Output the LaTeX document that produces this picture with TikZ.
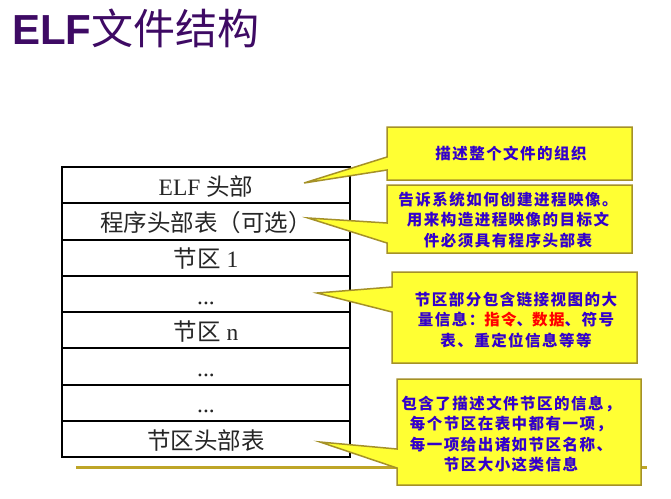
\documentclass[tikz,border=0pt]{standalone}
\usepackage{fontspec}
\setmainfont{Liberation Serif}
\newfontfamily\cjk{Noto Sans CJK SC}
\newfontfamily\cjksp{Noto Sans CJK SC}[LetterSpace=9.5]
\newfontfamily\titlesans{Liberation Sans}
\definecolor{titlecol}{RGB}{62,10,100}
\definecolor{callfill}{RGB}{255,255,51}
\definecolor{calledge}{RGB}{165,145,40}
\definecolor{olivebar}{RGB}{190,165,40}
\definecolor{calltext}{RGB}{51,0,204}
\definecolor{keyred}{RGB}{255,0,0}
\tikzset{
  rowbox/.style={draw=black, line width=2pt, minimum width=288pt, minimum height=36.25pt,
    inner sep=0pt, outer sep=0pt, anchor=north west, text height=22.5pt, text depth=2pt,
    font=\fontsize{23.5}{27}\selectfont, text=black!85},
  callout/.style={fill=callfill, draw=calledge, line width=1.5pt, line join=miter},
  calltxt/.style={align=center, inner sep=0pt, text=calltext,
    font=\cjksp\bfseries\fontsize{15.5}{20.5}\selectfont},
  olive line/.style={draw=olivebar, line width=3pt}
}
\begin{document}
\begin{tikzpicture}[x=1pt,y=-1pt]
\useasboundingbox (0,0) rectangle (671,498);
\fill[white] (0,0) rectangle (671,498);
% title
\node[anchor=base west, inner sep=0pt, text=titlecol, font=\fontsize{42}{50}\selectfont] (title) at (12,44) {{\titlesans\bfseries ELF}{\cjk 文件结构}};
% table rows
\node[rowbox] (r1) at (62,167) {ELF~{\cjk 头部}};
\node[rowbox] (r2) at (62,203.25) {\cjk 程序头部表（可选）};
\node[rowbox] (r3) at (62,239.5) {{\cjk 节区}~1};
\node[rowbox] (r4) at (62,275.75) {...};
\node[rowbox] (r5) at (62,312) {{\cjk 节区}~n};
\node[rowbox] (r6) at (62,348.25) {...};
\node[rowbox] (r7) at (62,384.5) {...};
\node[rowbox] (r8) at (62,420.75) {\cjk 节区头部表};
% olive bar
\draw[olive line] (76,467.5) -- (647,467.5);
% pointer tips
\coordinate (t1) at (304,183);
\coordinate (t2) at (308,218);
\coordinate (t3) at (317,293);
\coordinate (t4) at (320,442);
% callouts
\draw[callout] (387,127) -- (632,127) -- (632,180) -- (387,180) -- (387,170) -- (t1) -- (387,157) -- cycle;
\draw[callout] (387,185) -- (632,185) -- (632,253) -- (387,253) -- (387,243) -- (t2) -- (387,223) -- cycle;
\draw[callout] (392,272) -- (637,272) -- (637,363) -- (392,363) -- (392,312) -- (t3) -- (392,287) -- cycle;
\draw[callout] (397,379) -- (641,379) -- (641,485) -- (397,485) -- (397,468) -- (t4) -- (397,449) -- cycle;
% callout texts
\node[calltxt] (c1) at (511,153) {描述整个文件的组织};
\node[calltxt] (c2) at (508,220) {告诉系统如何创建进程映像。\\用来构造进程映像的目标文\\件必须具有程序头部表};
\node[calltxt] (c3) at (516,320) {节区部分包含链接视图的大\\量信息：{\color{keyred}指令}、{\color{keyred}数据}、符号\\表、重定位信息等等};
\node[calltxt] (c4) at (511,434) {包含了描述文件节区的信息，\\每个节区在表中都有一项，\\每一项给出诸如节区名称、\\节区大小这类信息};
\end{tikzpicture}
\end{document}
